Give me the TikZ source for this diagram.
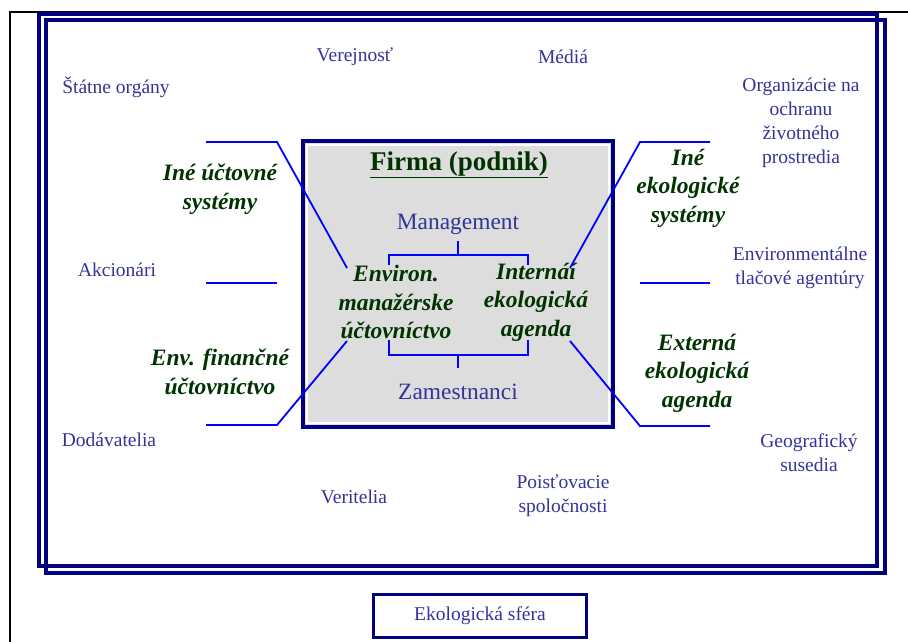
\documentclass[tikz,border=0pt]{standalone}
\usepackage{fontspec}
\setmainfont{Liberation Serif}
\usepackage{xcolor}
\usetikzlibrary{positioning}
\definecolor{navy}{HTML}{000080}
\definecolor{txtblue}{HTML}{333399}
\definecolor{dgreen}{HTML}{003300}
\definecolor{lnblue}{HTML}{0000FF}
\definecolor{boxgray}{HTML}{DDDDDD}
\tikzset{
  actor/.style={text=txtblue, font=\fontsize{19.5}{24}\selectfont, align=center, inner sep=0pt},
  tool/.style={text=dgreen, font=\fontsize{23.5}{28.5}\selectfont\bfseries\itshape, align=center, inner sep=0pt},
  staff/.style={text=txtblue, font=\fontsize{23.4}{28}\selectfont, inner sep=0pt},
  title/.style={text=dgreen, font=\fontsize{27}{32}\selectfont\bfseries, inner sep=0pt},
  link/.style={lnblue, line width=1.8pt},
  sphere/.style={navy, line width=3.5pt},
}

\begin{document}
\begin{tikzpicture}[x=1pt,y=-1pt]
\useasboundingbox (0,0) rectangle (908,642);

% page border
\draw[line width=2pt] (908,12) -- (10,12) -- (10,642);

% ecological sphere
\draw[sphere] (39,14) rectangle (877,566);
\draw[sphere] (46,20) rectangle (885,573);

% the firm
\draw[sphere, fill=boxgray] (303,141) rectangle (613,427);
\draw[white, line width=1.5pt] (307,145) rectangle (609,423);

\node[title] (firma) at (459,165) {\underline{Firma (podnik)}};
\node[staff] (mgmt) at (458,224) {Management};
\node[staff] (zam) at (458,392) {Zamestnanci};
\node[tool] (ema) at (396,302) {Environ.\\manažérske\\účtovníctvo};
\node[tool] (iea) at (536,302) {Internáí\\ekologická\\agenda};

\coordinate (mm) at (458,241);
\coordinate (mfork) at (458,255);
\coordinate (ml) at (389,265);
\coordinate (mr) at (528,265);
\draw[link] (mm) -- (mfork);
\draw[link] (ml) |- (mfork) -| (mr);

\coordinate (zl) at (389,340);
\coordinate (zr) at (528,340);
\coordinate (zfork) at (458,355);
\coordinate (zz) at (458,368);
\draw[link] (zl) |- (zfork) -| (zr);
\draw[link] (zfork) -- (zz);

% stakeholders
\node[actor] (verej) at (355,57) {Verejnosť};
\node[actor] (media) at (563,57) {Médiá};
\node[actor] (statne) at (116,87) {Štátne orgány};
\node[actor] (org) at (801,123) {Organizácie na\\ochranu\\životného\\prostredia};
\node[actor] (akc) at (117,270) {Akcionári};
\node[actor] (envag) at (800,268) {Environmentálne\\tlačové agentúry};
\node[actor] (dod) at (109,440) {Dodávatelia};
\node[actor] (geo) at (809,453) {Geografický\\susedia};
\node[actor] (verit) at (354,497) {Veritelia};
\node[actor] (pois) at (563,496) {Poisťovacie\\spoločnosti};

% systems
\node[tool] (iuc) at (220,189) {Iné účtovné\\systémy};
\node[tool] (efu) at (220,372) {Env. finančné\\účtovníctvo};
\node[tool] (ies) at (688,188) {Iné\\ekologické\\systémy};
\node[tool] (eea) at (697,373) {Externá\\ekologická\\agenda};

\coordinate (l1a) at (206,142); \coordinate (l1b) at (277,142);
\coordinate (l2a) at (206,283); \coordinate (l2b) at (277,283);
\coordinate (l3a) at (206,425); \coordinate (l3b) at (277,425);
\coordinate (r1a) at (710,142); \coordinate (r1b) at (640,142);
\coordinate (r2a) at (710,283); \coordinate (r2b) at (640,283);
\coordinate (r3a) at (710,426); \coordinate (r3b) at (640,426);
\coordinate (emat) at (347,268); \coordinate (emab) at (347,341);
\coordinate (ieat) at (570,268); \coordinate (ieab) at (570,341);

\draw[link] (l1a) -- (l1b) -- (emat);
\draw[link] (l2a) -- (l2b);
\draw[link] (l3a) -- (l3b) -- (emab);
\draw[link] (r1a) -- (r1b) -- (ieat);
\draw[link] (r2a) -- (r2b);
\draw[link] (r3a) -- (r3b) -- (ieab);

\node[actor, draw=navy, line width=3.5pt, minimum width=213pt, minimum height=43pt] (eko) at (480,616) {Ekologická sféra};

\end{tikzpicture}
\end{document}
